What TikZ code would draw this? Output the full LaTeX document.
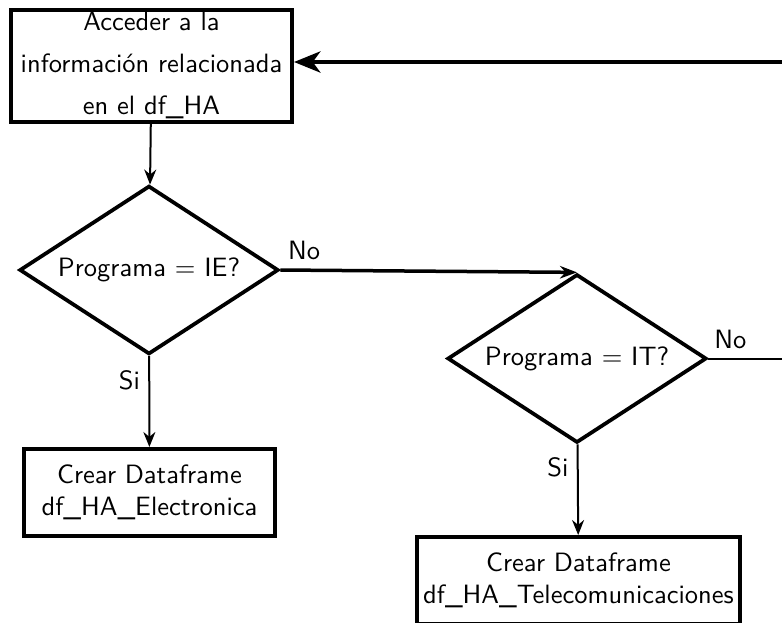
\documentclass[tikz,border=0pt]{standalone}
\usetikzlibrary{shapes.geometric,arrows.meta,positioning}

\begin{document}
\begin{tikzpicture}[x=0.4pt,y=-0.4pt,
	every node/.style={font=\fontsize{10.6}{12.7}\sffamily},
	caja/.style={shape=rectangle,draw=black,line width=1.6pt,align=center,inner sep=0.5pt},
	decision/.style={shape=diamond,draw=black,line width=1.5pt,aspect=1.6,inner sep=0pt,minimum width=103.6pt,minimum height=67.4pt},
	flecha/.style={line width=0.8pt,-{Stealth[length=6pt,width=4.8pt]}},
	flechano/.style={line width=1.4pt,-{Stealth[length=6.8pt,width=5pt]}},
	flecharetorno/.style={line width=1.9pt,-{Stealth[length=10.5pt,width=8.4pt,inset=3pt]}},
	linea/.style={line width=0.8pt}]
			\useasboundingbox (0,0) rectangle (782,622);
			\clip (0,0) rectangle (782,622);
			\node[caja,minimum width=112.4pt,minimum height=44.8pt] (acceso) at (151.5,65.5) {Acceder a la\\[4.1pt] información relacionada\\[4.1pt] en el df\_HA};
			\node[decision] (ie) at (149,270) {Programa = IE?};
			\node[decision] (it) at (577,358.5) {Programa = IT?};
			\node[caja,minimum width=100.4pt,minimum height=34.8pt] (electronica) at (149.5,492.5) {Crear Dataframe\\df\_HA\_Electronica};
			\node[caja,minimum width=129.2pt,minimum height=34.8pt] (telecom) at (578.5,580.5) {Crear Dataframe\\df\_HA\_Telecomunicaciones};
			\coordinate (retorno) at (790,62);
			\coordinate (salida) at (790,358.5);
			\draw[flecharetorno] (retorno) -- (retorno -| acceso.east);
			\draw[flecha] (acceso) -- (ie);
			\draw[flechano] (ie.east) -- node[pos=0.08,above] {No} (it.north);
			\draw[linea] (it.east) -- node[pos=0.27,above] {No} (salida);
			\draw[flecha] (ie) -- node[pos=0.27,left] {Si} (electronica);
			\draw[flecha] (it) -- node[pos=0.25,left] {Si} (telecom);
\end{tikzpicture}
\end{document}
